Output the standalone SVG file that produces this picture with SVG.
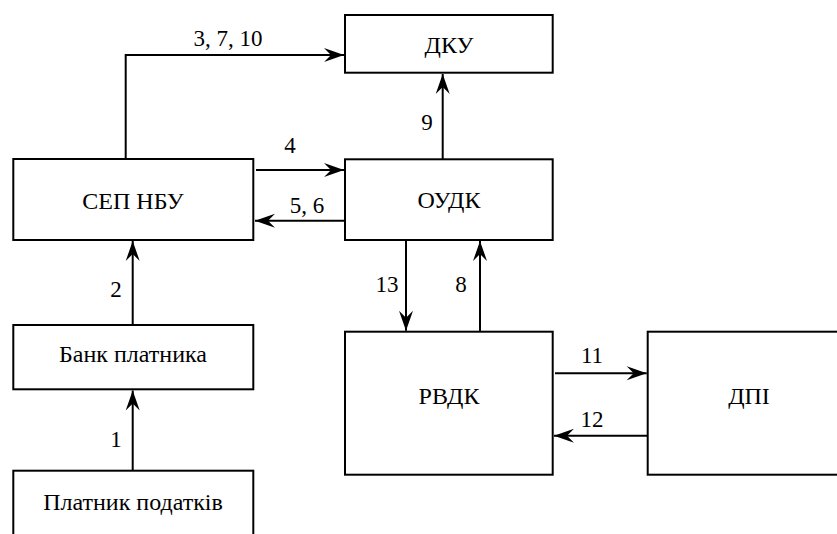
<svg xmlns="http://www.w3.org/2000/svg" width="837" height="534" viewBox="0 0 837 534">
<defs>
<marker id="ah" markerUnits="userSpaceOnUse" markerWidth="24" markerHeight="18" viewBox="-22 -9 24 18" refX="0" refY="0" orient="auto">
<path d="M0,0 L-20,-7 L-13,0 L-20,7 Z" fill="#000"/>
</marker>
</defs>
<g fill="#fff" stroke="#000" stroke-width="2">
<g id="dku"><rect x="345" y="15" width="207.7" height="57.7"/><text stroke="none" fill="#000" font-family="Liberation Serif" font-size="24" text-anchor="middle" x="449" y="53">ДКУ</text></g>
<g id="sep"><rect x="13.3" y="159" width="240" height="81"/><text stroke="none" fill="#000" font-family="Liberation Serif" font-size="24" text-anchor="middle" x="133" y="209">СЕП НБУ</text></g>
<g id="oudk"><rect x="345" y="159.3" width="207.7" height="80.7"/><text stroke="none" fill="#000" font-family="Liberation Serif" font-size="24" text-anchor="middle" x="449" y="208">ОУДК</text></g>
<g id="bank"><rect x="13.3" y="325" width="240" height="64.3"/><text stroke="none" fill="#000" font-family="Liberation Serif" font-size="24" text-anchor="middle" x="133" y="362">Банк платника</text></g>
<g id="platnyk"><rect x="13.3" y="470.7" width="240" height="80"/><text stroke="none" fill="#000" font-family="Liberation Serif" font-size="24" text-anchor="middle" x="133" y="510">Платник податків</text></g>
<g id="rvdk"><rect x="345" y="331.7" width="207.7" height="143"/><text stroke="none" fill="#000" font-family="Liberation Serif" font-size="24" text-anchor="middle" x="449" y="404">РВДК</text></g>
<g id="dpi"><rect x="647.7" y="331.7" width="200" height="143"/><text stroke="none" fill="#000" font-family="Liberation Serif" font-size="24" text-anchor="middle" x="749" y="404">ДПІ</text></g>
</g>
<g id="connectors" fill="none" stroke="#000" stroke-width="2">
<path marker-end="url(#ah)" d="M132.7,470.7 V390.5"/>
<path marker-end="url(#ah)" d="M132.7,325 V241"/>
<path marker-end="url(#ah)" d="M125.7,159 V55 H344"/>
<path marker-end="url(#ah)" d="M256,170 H344"/>
<path marker-end="url(#ah)" d="M345,220.7 H255"/>
<path marker-end="url(#ah)" d="M442.7,159.3 V74"/>
<path marker-end="url(#ah)" d="M406,240 V330.7"/>
<path marker-end="url(#ah)" d="M480,331.7 V241"/>
<path marker-end="url(#ah)" d="M555,373.3 H646.7"/>
<path marker-end="url(#ah)" d="M647.7,435.7 H554"/>
</g>
<g id="labels" fill="#000">
<text font-family="Liberation Serif" font-size="23" text-anchor="middle" x="228" y="46">3, 7, 10</text>
<text font-family="Liberation Serif" font-size="23" text-anchor="middle" x="290" y="153">4</text>
<text font-family="Liberation Serif" font-size="23" text-anchor="middle" x="307" y="213">5, 6</text>
<text font-family="Liberation Serif" font-size="23" text-anchor="middle" x="427" y="130">9</text>
<text font-family="Liberation Serif" font-size="23" text-anchor="middle" x="116" y="297">2</text>
<text font-family="Liberation Serif" font-size="23" text-anchor="middle" x="116" y="447">1</text>
<text font-family="Liberation Serif" font-size="23" text-anchor="middle" x="387" y="292">13</text>
<text font-family="Liberation Serif" font-size="23" text-anchor="middle" x="461" y="292">8</text>
<text font-family="Liberation Serif" font-size="23" text-anchor="middle" x="592" y="363">11</text>
<text font-family="Liberation Serif" font-size="23" text-anchor="middle" x="592" y="427">12</text>
</g>
</svg>
